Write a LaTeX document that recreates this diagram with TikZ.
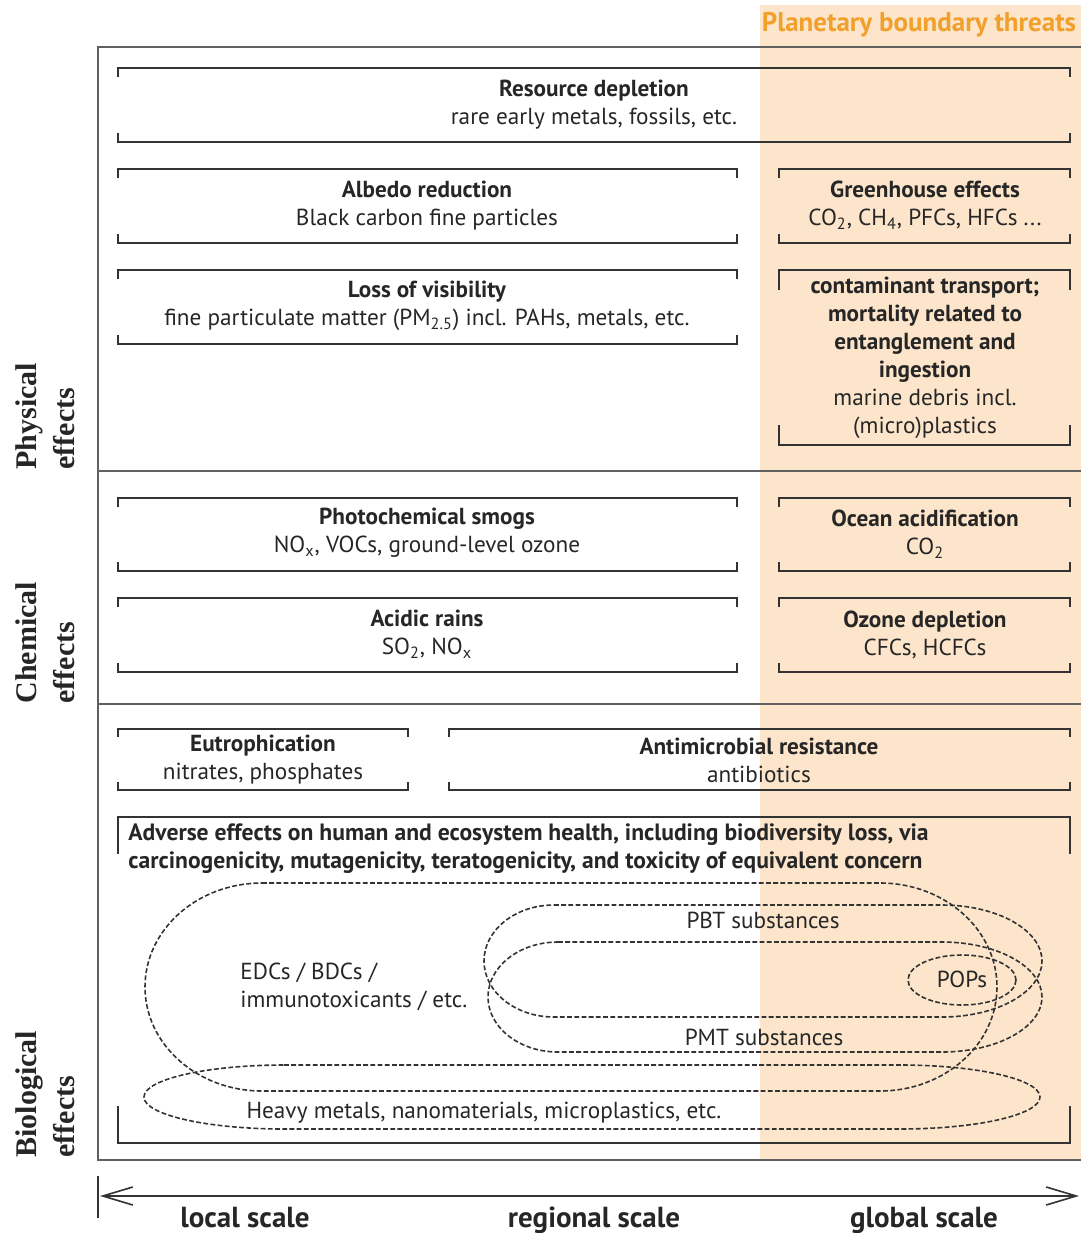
\documentclass[tikz,border=0pt]{standalone}
\usepackage{fontspec}
\setmainfont{PT Sans}
\newfontfamily\labserif{Liberation Serif}
\usetikzlibrary{arrows.meta}
\definecolor{band}{HTML}{FCE5CB}
\definecolor{ptitle}{HTML}{F1A02C}
\definecolor{framec}{HTML}{606060}
\definecolor{ink}{HTML}{262626}
\definecolor{brk}{HTML}{333333}
\newcommand\brkt[5]{%
  \draw[brkline] (#1,#2+#5) -- (#1,#2) -- (#3,#2) -- (#3,#2+#5);
  \draw[brkline] (#1,#4-#5) -- (#1,#4) -- (#3,#4) -- (#3,#4-#5);}
% x1,y1,x2,y2,aL,aR,ry
\newcommand\stad[7]{%
  \draw[dsh] (#1+#5,#2) -- (#3-#6,#2) arc[start angle=-90,end angle=90,x radius=#6,y radius=#7]
    -- (#1+#5,#4) arc[start angle=90,end angle=270,x radius=#5,y radius=#7] -- cycle;}
\tikzset{
  frameline/.style={draw=framec,line width=1pt},
  brkline/.style={draw=brk,line width=1pt},
  dsh/.style={draw=brk,line width=0.8pt,dash pattern=on 2.4pt off 1.2pt},
  boxtxt/.style={font=\fontsize{11.6}{14}\selectfont,align=center,text=ink,inner sep=0pt},
  plain/.style={font=\fontsize{11.6}{14}\selectfont,text=ink,inner sep=0pt},
  scalelab/.style={font=\fontsize{14.5}{16}\selectfont\bfseries,text=ink,inner sep=0pt,anchor=base},
  sidelab/.style={font=\labserif\fontsize{15}{19}\selectfont\bfseries,text=ink,inner sep=0pt,align=left,rotate=90,anchor=south west},
  axisline/.style={draw=brk,line width=0.8pt,{Straight Barb[length=15pt,width=9pt]}-{Straight Barb[length=15pt,width=9pt]}},
}
\begin{document}
\begin{tikzpicture}[x=0.5pt,y=-0.5pt]
\useasboundingbox (0,0) rectangle (1081,1233);
\fill[band] (760,5) rectangle (1081,1160);
\node[font=\fontsize{13.5}{16}\selectfont\bfseries,text=ptitle,inner sep=0pt] (pbt) at (919,25) {Planetary boundary threats};
% frame
\draw[frameline] (1081,47) -- (98,47) -- (98,1160) -- (1081,1160);
\draw[frameline] (98,471) -- (1081,471);
\draw[frameline] (98,704) -- (1081,704);
% side labels
\node[sidelab] (phys) at (75,470) {Physical\\effects};
\node[sidelab] (chem) at (75,704) {Chemical\\effects};
\node[sidelab] (bio) at (75,1158) {Biological\\effects};
% physical
\brkt{118}{68}{1070}{142}{9}
\node[boxtxt] (res) at (594,105) {\textbf{Resource depletion}\\rare early metals, fossils, etc.};
\brkt{118}{169}{737}{243}{9}
\node[boxtxt] (alb) at (427,206) {\textbf{Albedo reduction}\\Black carbon fine particles};
\brkt{779}{169}{1070}{243}{9}
\node[boxtxt] (ghg) at (925,205) {\textbf{Greenhouse effects}\\CO\textsubscript{2}, CH\textsubscript{4}, PFCs, HFCs ...};
\brkt{118}{270}{737}{344}{9}
\node[boxtxt] (vis) at (427,306) {\textbf{Loss of visibility}\\fine particulate matter (PM\textsubscript{2.5}) incl. PAHs, metals, etc.};
\brkt{779}{270}{1070}{445}{20}
\node[boxtxt] (mar) at (925,358) {\textbf{contaminant transport;}\\\textbf{mortality related to}\\\textbf{entanglement and}\\\textbf{ingestion}\\marine debris incl.\\(micro)plastics};
% chemical
\brkt{118}{498}{737}{571}{9}
\node[boxtxt] (smog) at (427,533) {\textbf{Photochemical smogs}\\NO\textsubscript{x}, VOCs, ground-level ozone};
\brkt{779}{498}{1070}{571}{9}
\node[boxtxt] (oac) at (925,534) {\textbf{Ocean acidification}\\CO\textsubscript{2}};
\brkt{118}{598}{737}{672}{9}
\node[boxtxt] (acid) at (427,634) {\textbf{Acidic rains}\\SO\textsubscript{2}, NO\textsubscript{x}};
\brkt{779}{598}{1070}{672}{9}
\node[boxtxt] (ozo) at (925,635) {\textbf{Ozone depletion}\\CFCs, HCFCs};
% biological
\brkt{118}{729}{408}{790}{8}
\node[boxtxt] (eut) at (263,760) {\textbf{Eutrophication}\\nitrates, phosphates};
\brkt{449}{729}{1070}{790}{8}
\node[boxtxt] (amr) at (759,760) {\textbf{Antimicrobial resistance}\\antibiotics};
\brkt{118}{817}{1070}{1143}{37}
\node[boxtxt,align=left,anchor=west,font=\fontsize{11.8}{14}\selectfont\bfseries] (adv) at (128,849) {Adverse effects on human and ecosystem health, including biodiversity loss, via\\carcinogenicity, mutagenicity, teratogenicity, and toxicity of equivalent concern};
% dashed groups
\stad{145}{883}{997}{1091}{117}{117}{104}
\stad{484}{905}{1042}{1017}{70}{100}{56}
\stad{488}{942}{1042}{1052}{70}{100}{55}
\stad{144}{1065}{1040}{1129}{140}{140}{32}
\draw[dsh] (962,980) ellipse[x radius=54,y radius=25];
\node[boxtxt,align=left,anchor=west] (edc) at (240,987) {EDCs / BDCs /\\immunotoxicants / etc.};
\node[plain] (pbts) at (763,920) {PBT substances};
\node[plain] (pmts) at (764,1037) {PMT substances};
\node[plain] (pops) at (962,979) {POPs};
\node[plain] (hvy) at (484,1113) {Heavy metals, nanomaterials, microplastics, etc.};
% axis
\coordinate (axL) at (100,1196);
\coordinate (axR) at (1079,1196);
\coordinate (tkT) at (98,1176);
\coordinate (tkB) at (98,1218);
\draw[draw=brk,line width=0.8pt] (tkT) -- (tkB);
\draw[axisline] (axL) -- (axR);
\node[scalelab] (loc) at (245,1227) {local scale};
\node[scalelab] (reg) at (594,1227) {regional scale};
\node[scalelab] (glo) at (924,1227) {global scale};
\end{tikzpicture}
\end{document}
